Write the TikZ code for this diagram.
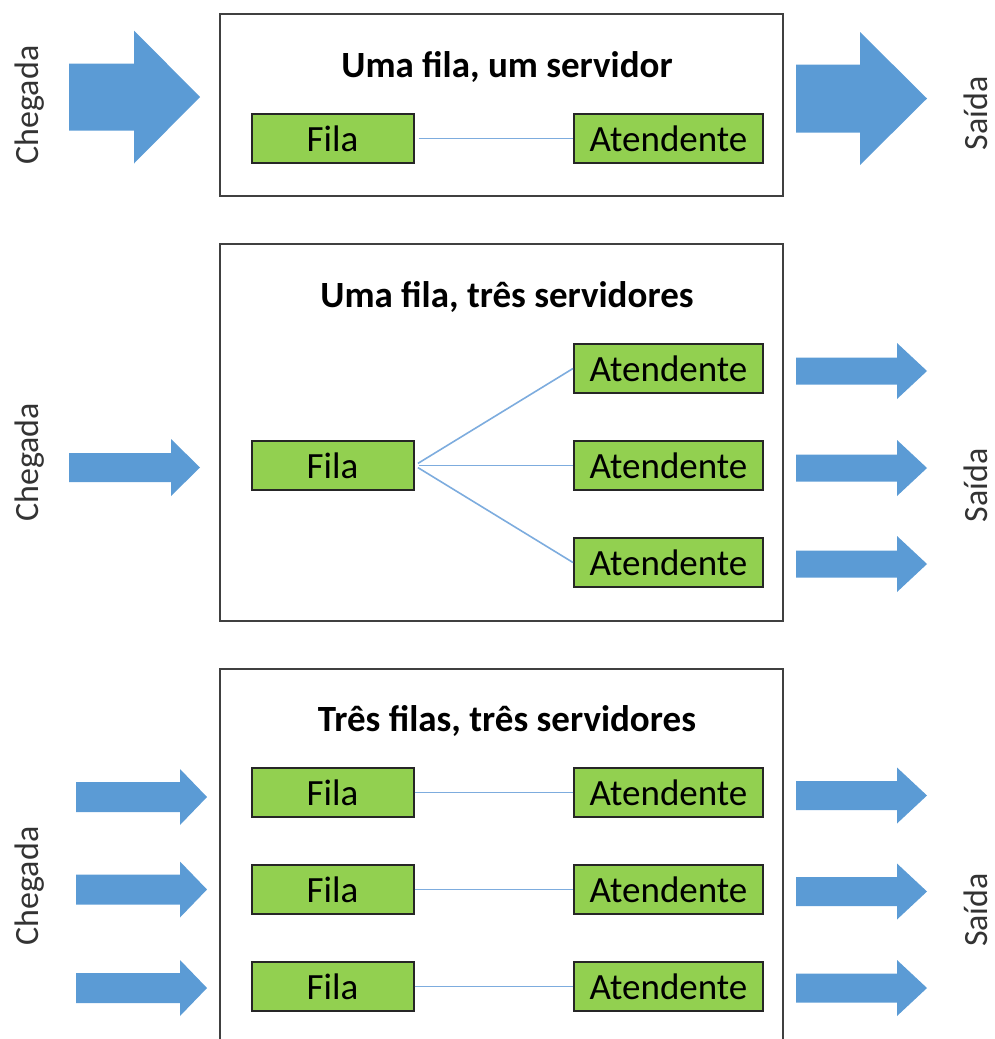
\documentclass[tikz,border=0pt]{standalone}
\usepackage{fontspec}
\setmainfont{Carlito}

\definecolor{setaazul}{RGB}{91,155,213}
\definecolor{verde}{RGB}{146,208,80}
\definecolor{linhaazul}{RGB}{125,172,222}

% seta larga: cauda, base da ponta, ponta, y, meia haste, meia ponta
\newcommand{\seta}[6]{\fill[setaazul] (#1,#4-#5) -- (#2,#4-#5) -- (#2,#4-#6) -- (#3,#4) -- (#2,#4+#6) -- (#2,#4+#5) -- (#1,#4+#5) -- cycle;}

\begin{document}
\begin{tikzpicture}[x=0.5pt,y=-0.5pt,
    caixa/.style ={rectangle, draw=black!85, line width=1pt, fill=verde, minimum height=24.5pt, inner sep=0pt, font=\fontsize{18.5}{22}\selectfont},
    fila/.style ={caixa, minimum width=81pt},
    atendente/.style ={caixa, minimum width=94.5pt},
    titulo/.style ={anchor=base, font=\bfseries\fontsize{18.5}{22}\selectfont},
    rotulo/.style ={rotate=90, text=black!80, font=\fontsize{17}{20}\selectfont},
    painel/.style ={draw=black!75, line width=1pt},
    ligacao/.style ={draw=linhaazul, line width=0.8pt}]
   \useasboundingbox (0,0) rectangle (995,1039);

   % uma fila, um servidor
   \draw[painel] (220,14) rectangle (783,196);
   \node[titulo] (t1) at (507,77) {Uma fila, um servidor};
   \node[fila] (f1) at (332.5,138.5) {Fila};
   \node[atendente] (a1) at (668.5,138.5) {Atendente};
   \draw[ligacao, shorten <=2pt] (f1) -- (a1);
   \seta{69}{134}{200}{97}{33.5}{66.5}
   \seta{796}{860}{927}{98.5}{34}{66.5}
   \node[rotulo] (c1) at (30,105) {Chegada};
   \node[rotulo] (s1) at (975.5,113.5) {Saída};

   % uma fila, tres servidores
   \draw[painel] (220,244) rectangle (783,621);
   \node[titulo] (t2) at (507,307) {Uma fila, três servidores};
   \node[fila] (f2) at (332.5,465.5) {Fila};
   \node[atendente] (a2) at (668.5,368.5) {Atendente};
   \node[atendente] (a3) at (668.5,465.5) {Atendente};
   \node[atendente] (a4) at (668.5,562.5) {Atendente};
   \draw[ligacao, shorten <=2pt] (f2.east) -- (a2.west);
   \draw[ligacao, shorten <=2pt] (f2.east) -- (a3.west);
   \draw[ligacao, shorten <=2pt] (f2.east) -- (a4.west);
   \seta{69}{171}{200}{467.5}{14.5}{28.5}
   \seta{796}{897}{927}{371}{13.5}{28}
   \seta{796}{897}{927}{468}{13.5}{28}
   \seta{796}{897}{927}{564}{13.5}{28}
   \node[rotulo] (c2) at (30,462.5) {Chegada};
   \node[rotulo] (s2) at (975.5,485.5) {Saída};

   % tres filas, tres servidores
   \draw[painel] (220,1045) -- (220,669) -- (783,669) -- (783,1045);
   \node[titulo] (t3) at (507,731) {Três filas, três servidores};
   \node[fila] (f3) at (332.5,792.5) {Fila};
   \node[fila] (f4) at (332.5,889.5) {Fila};
   \node[fila] (f5) at (332.5,986.5) {Fila};
   \node[atendente] (a5) at (668.5,792.5) {Atendente};
   \node[atendente] (a6) at (668.5,889.5) {Atendente};
   \node[atendente] (a7) at (668.5,986.5) {Atendente};
   \draw[ligacao] (f3) -- (a5);
   \draw[ligacao] (f4) -- (a6);
   \draw[ligacao] (f5) -- (a7);
   \seta{76}{180}{207}{797}{15}{28}
   \seta{76}{180}{207}{889.5}{15}{28}
   \seta{76}{180}{207}{988}{15}{28}
   \seta{796}{897}{927}{795.5}{14.5}{28}
   \seta{796}{897}{927}{891.5}{14.5}{28}
   \seta{796}{897}{927}{988}{14.5}{28}
   \node[rotulo] (c3) at (30,886) {Chegada};
   \node[rotulo] (s3) at (975.5,910) {Saída};
 \end{tikzpicture}
\end{document}
